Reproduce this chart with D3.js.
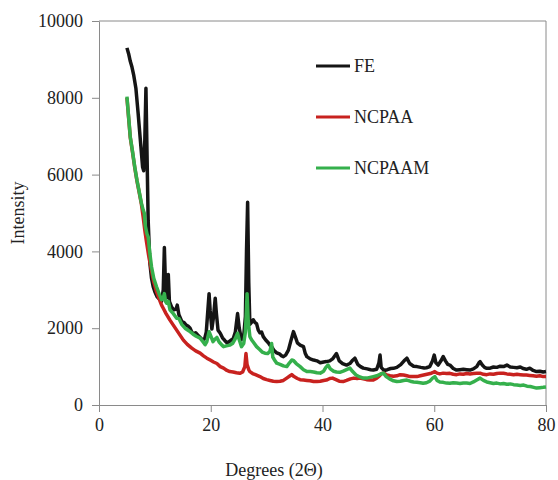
<!DOCTYPE html>
<html>
<head>
<meta charset="utf-8">
<script src="https://cdn.jsdelivr.net/npm/d3@7"></script>
<style>
  body { margin: 0; background: #fff; }
  svg text { font-family: "Liberation Serif", "DejaVu Serif", serif; fill: #222; }
</style>
</head>
<body>
<div id="chart"></div>
<script>
// series names and colours
var seriesNames = ["FE", "NCPAA", "NCPAAM"];
var seriesColors = ["#151515", "#c8221f", "#35b04c"];

var xTicks = [0, 20, 40, 60, 80];
var yTicks = [0, 2000, 4000, 6000, 8000, 10000];

// [degrees 2theta, intensity]
var fe = [[5.0,9300],[5.3,9150],[5.6,8950],[5.9,8800],[6.2,8600],[6.6,8250],[7.0,7600],[7.4,6900],[7.8,6200],[8.0,6100],[8.2,6900],[8.4,8250],[8.6,6500],[8.8,4800],[9.1,3700],[9.4,3300],[9.7,3080],[10.0,2950],[10.4,2820],[10.8,2760],[11.2,2700],[11.5,3000],[11.7,4100],[11.9,3100],[12.1,2800],[12.4,3400],[12.6,2700],[13.0,2550],[13.4,2480],[13.8,2500],[14.0,2600],[14.3,2350],[14.8,2180],[15.2,2150],[15.6,2080],[16.0,2050],[16.3,2000],[16.6,1900],[17.0,1850],[17.3,1880],[17.7,1820],[18.1,1760],[18.5,1700],[18.9,1720],[19.2,1900],[19.5,2500],[19.7,2900],[19.9,2450],[20.2,1980],[20.5,2300],[20.8,2780],[21.0,2400],[21.3,1950],[21.7,1870],[22.1,1750],[22.5,1680],[22.9,1620],[23.3,1650],[23.7,1700],[24.0,1720],[24.4,1900],[24.8,2380],[25.1,2000],[25.5,1700],[25.9,1800],[26.2,2300],[26.4,4000],[26.6,5280],[26.8,3200],[27.0,2100],[27.3,2150],[27.6,2220],[27.9,2150],[28.2,2120],[28.5,1950],[28.8,1880],[29.1,1900],[29.4,1780],[29.8,1700],[30.3,1620],[30.6,1560],[30.9,1520],[31.3,1420],[31.8,1360],[32.3,1330],[32.7,1280],[33.0,1260],[33.4,1300],[33.9,1430],[34.3,1650],[34.8,1910],[35.2,1750],[35.5,1620],[36.0,1560],[36.6,1520],[36.9,1350],[37.2,1260],[37.8,1200],[38.4,1170],[39.0,1150],[39.6,1100],[40.2,1120],[40.7,1130],[41.3,1150],[41.8,1200],[42.5,1340],[43.0,1150],[43.6,1080],[44.3,1040],[44.9,1080],[45.3,1150],[45.8,1220],[46.3,1060],[46.8,1000],[47.3,960],[48.0,940],[48.6,920],[49.1,910],[49.7,930],[50.1,1100],[50.3,1300],[50.5,980],[51.0,900],[51.6,920],[52.2,950],[52.7,955],[53.3,980],[54.0,1050],[54.6,1150],[55.1,1220],[55.6,1080],[56.3,1010],[56.9,1000],[57.6,980],[58.2,965],[58.6,970],[59.2,1000],[59.7,1150],[60.0,1300],[60.3,1100],[60.7,1040],[61.2,1150],[61.6,1260],[62.0,1150],[62.4,1060],[62.8,1040],[63.4,950],[64.0,910],[64.6,920],[65.2,930],[65.8,920],[66.4,910],[67.0,940],[67.6,1000],[68.0,1100],[68.2,1130],[68.6,1040],[69.0,980],[69.4,955],[70.0,960],[70.6,990],[71.2,980],[71.8,1010],[72.4,1000],[73.0,1040],[73.6,990],[74.2,980],[74.8,970],[75.4,990],[75.9,950],[76.5,930],[77.1,960],[77.7,900],[78.3,870],[78.9,880],[79.5,860],[80.0,870]];

var ncpaa = [[5.0,8000],[5.3,7480],[5.6,6960],[6.0,6580],[6.4,6180],[6.8,5830],[7.2,5530],[7.6,5220],[7.9,4900],[8.2,4550],[8.5,4250],[8.9,3880],[9.4,3500],[9.8,3200],[10.3,2950],[10.8,2750],[11.2,2600],[11.5,2520],[12.0,2380],[12.7,2210],[13.3,2080],[13.9,1950],[14.5,1820],[15.1,1690],[15.8,1580],[16.6,1480],[17.3,1410],[18.1,1350],[18.7,1280],[19.3,1220],[19.9,1170],[20.5,1120],[21.1,1080],[21.7,1000],[22.3,960],[22.9,900],[23.4,870],[24.0,860],[24.6,840],[25.2,825],[25.7,860],[26.1,1000],[26.3,1340],[26.5,1050],[26.8,920],[27.0,870],[27.5,820],[28.0,790],[28.8,740],[29.4,690],[30.0,660],[30.6,640],[31.2,620],[31.8,610],[32.4,620],[33.0,640],[33.6,700],[34.2,760],[34.5,790],[34.9,740],[35.5,690],[36.0,660],[36.6,650],[37.2,640],[37.8,630],[38.4,610],[39.0,610],[39.6,620],[40.2,640],[40.7,650],[41.3,690],[41.8,700],[42.4,660],[43.0,620],[43.7,610],[44.3,640],[45.0,680],[45.6,700],[46.2,690],[46.7,700],[47.3,680],[47.9,660],[48.5,650],[49.1,650],[49.7,700],[50.2,760],[50.6,820],[51.0,830],[51.5,780],[52.1,760],[52.7,750],[53.3,760],[53.9,790],[54.5,780],[55.1,760],[55.7,740],[56.3,745],[56.9,740],[57.5,760],[58.1,780],[58.7,800],[59.3,820],[59.8,850],[60.1,870],[60.5,830],[61.0,810],[61.6,830],[62.2,820],[62.8,825],[63.4,800],[64.0,790],[64.6,810],[65.2,800],[65.8,820],[66.4,810],[67.0,820],[67.6,825],[68.2,830],[68.8,800],[69.4,790],[70.0,810],[70.6,800],[71.2,820],[71.8,830],[72.4,825],[73.0,810],[73.6,800],[74.2,790],[74.8,800],[75.4,790],[76.0,780],[76.5,780],[77.1,770],[77.7,760],[78.3,750],[78.9,760],[79.5,740],[80.0,740]];

var ncpaam = [[5.0,8030],[5.3,7500],[5.6,6980],[6.0,6600],[6.4,6200],[6.8,5850],[7.2,5550],[7.6,5250],[7.9,5080],[8.1,5000],[8.3,4650],[8.6,4450],[8.8,4380],[9.1,3950],[9.4,3600],[9.8,3300],[10.3,3080],[10.8,2880],[11.2,2740],[11.5,2780],[11.7,2900],[11.9,2700],[12.1,2650],[12.4,2700],[12.7,2480],[13.3,2380],[13.9,2260],[14.3,2250],[14.8,2100],[15.4,2000],[16.0,1940],[16.3,1910],[16.8,1850],[17.4,1790],[18.1,1740],[18.6,1650],[19.0,1570],[19.3,1650],[19.7,1910],[20.0,1800],[20.4,1650],[20.8,1720],[21.1,1760],[21.5,1640],[22.0,1560],[22.3,1520],[22.8,1540],[23.4,1560],[23.9,1600],[24.3,1700],[24.8,1870],[25.1,1700],[25.5,1520],[25.9,1600],[26.2,1900],[26.4,2500],[26.5,2900],[26.7,2200],[27.0,1780],[27.3,1700],[27.7,1620],[28.2,1520],[28.8,1440],[29.2,1380],[29.7,1350],[30.2,1340],[30.6,1400],[30.9,1600],[31.1,1250],[31.5,1150],[31.8,1090],[32.4,1060],[33.0,1020],[33.6,1000],[34.1,1100],[34.5,1170],[34.8,1160],[35.3,1080],[36.0,1000],[36.6,920],[37.2,870],[37.8,870],[38.4,860],[39.0,840],[39.6,830],[40.2,880],[40.6,980],[41.0,1040],[41.4,940],[42.0,880],[42.5,860],[43.1,850],[43.7,880],[44.3,920],[44.9,960],[45.4,870],[46.0,780],[46.7,730],[47.3,700],[47.9,700],[48.5,720],[49.1,740],[49.7,760],[50.3,800],[50.9,830],[51.4,740],[52.0,680],[52.7,630],[53.3,610],[53.9,620],[54.5,640],[55.1,650],[55.7,620],[56.3,600],[56.9,590],[57.5,580],[58.0,565],[58.6,580],[59.2,620],[59.7,700],[60.1,740],[60.5,640],[61.0,600],[61.6,590],[62.2,570],[62.8,565],[63.4,580],[64.0,570],[64.6,560],[65.2,575],[65.8,570],[66.4,560],[67.0,600],[67.6,650],[68.2,700],[68.8,640],[69.4,600],[70.0,580],[70.6,560],[71.2,570],[71.8,550],[72.4,560],[73.0,540],[73.6,550],[74.2,530],[74.8,520],[75.4,510],[76.0,520],[76.6,490],[77.2,480],[77.8,460],[78.3,440],[78.9,450],[79.5,460],[80.0,470]];

var allSeries = [fe, ncpaa, ncpaam];

var W = 558, H = 480;
var margin = { top: 21, right: 12, bottom: 75, left: 99 };
var width = W - margin.left - margin.right;
var height = H - margin.top - margin.bottom;

var svg = d3.select("#chart").append("svg")
    .attr("width", W)
    .attr("height", H);

var g = svg.append("g")
    .attr("transform", `translate(${margin.left},${margin.top})`);

var x = d3.scaleLinear().domain([0, 80]).range([0, width]);
var y = d3.scaleLinear().domain([0, 10000]).range([height, 0]);

// plot frame (top and right)
g.append("path")
    .attr("d", `M0,0H${width}V${height}`)
    .attr("fill", "none")
    .attr("stroke", "#8a8a8a")
    .attr("stroke-width", 1);

// axes
var xAxis = g.append("g")
    .attr("transform", `translate(0,${height})`)
    .call(d3.axisBottom(x).tickValues(xTicks).tickFormat(d3.format("d")).tickSize(7).tickPadding(6).tickSizeOuter(0));

var yAxis = g.append("g")
    .call(d3.axisLeft(y).tickValues(yTicks).tickFormat(d3.format("d")).tickSize(7).tickPadding(9).tickSizeOuter(0));

[xAxis, yAxis].forEach(function (ax) {
  ax.attr("font-family", "'Liberation Serif', serif").attr("font-size", 18);
  ax.select(".domain").attr("stroke", "#8a8a8a");
  ax.selectAll(".tick line").attr("stroke", "#8a8a8a");
  ax.selectAll("text").attr("fill", "#222");
});

// lines
var line = d3.line()
    .x(d => x(d[0]))
    .y(d => y(d[1]));

allSeries.forEach(function (data, i) {
  g.append("path")
      .datum(data)
      .attr("fill", "none")
      .attr("stroke", seriesColors[i])
      .attr("stroke-width", 3.5)
      .attr("stroke-linejoin", "round")
      .attr("d", line);
});

// legend
var legend = g.append("g")
    .attr("transform", "translate(217,45)");

seriesNames.forEach(function (name, i) {
  var row = legend.append("g").attr("transform", `translate(0,${i * 51})`);
  row.append("line")
      .attr("x1", 0).attr("x2", 34)
      .attr("stroke", seriesColors[i])
      .attr("stroke-width", 3);
  row.append("text")
      .attr("x", 38)
      .attr("y", 6)
      .style("font-size", "18px")
      .text(name);
});

// axis titles
svg.append("text")
    .attr("transform", "translate(24,213) rotate(-90)")
    .attr("text-anchor", "middle")
    .style("font-size", "18px")
    .text("Intensity");

svg.append("text")
    .attr("x", 274)
    .attr("y", 476)
    .attr("text-anchor", "middle")
    .style("font-size", "18px")
    .text("Degrees (2\u0398)");
</script>
</body>
</html>
